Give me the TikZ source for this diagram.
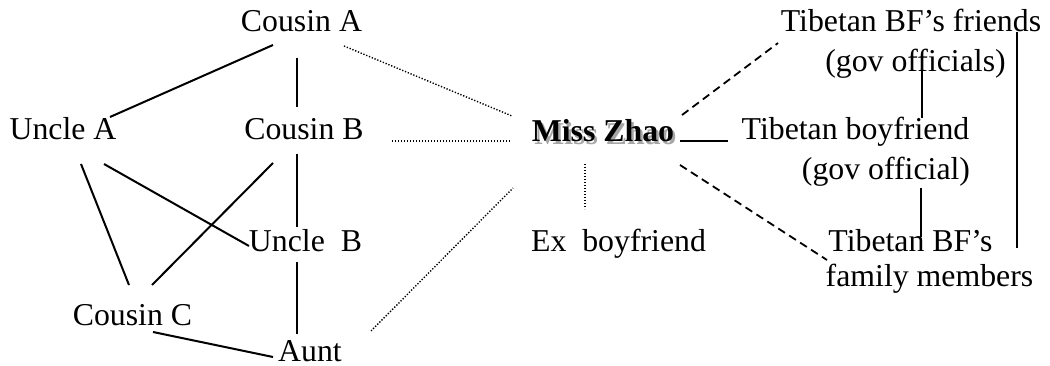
\documentclass[tikz,border=0pt]{standalone}
\usepackage{fontspec}
\setmainfont{Liberation Serif}
\usetikzlibrary{calc}
\begin{document}
\begin{tikzpicture}[x=1pt,y=-1pt,
  lbl/.style={anchor=base,inner sep=0pt,font=\fontsize{31.8}{38}\selectfont},
  tie/.style={line width=2pt},
  weak/.style={line width=1.4pt,dash pattern=on 1.3pt off 1.7pt},
  loose/.style={line width=1.8pt,dash pattern=on 8pt off 5pt}]
\useasboundingbox (0,0) rectangle (1050,366);
\fill[white] (0,0) rectangle (1050,366);

% family
\node[lbl] (ca) at (301.5,32) {Cousin A};
\node[lbl] (ua) at (63,140) {Uncle A};
\node[lbl] (cb) at (304,140) {Cousin B};
\node[lbl] (ub) at (305.5,252) {Uncle\ \ B};
\node[lbl] (cc) at (132.5,325) {Cousin C};
\node[lbl] (au) at (310,361) {Aunt};

% centre, with its soft shadow
\node[lbl,text=black!35] (mzs) at (605.5,144.5) {\bfseries Miss Zhao};
\node[lbl] (mz) at (603,142) {\bfseries Miss Zhao};
\node[lbl] (ex) at (618.5,252) {Ex\ \ boyfriend};

% boyfriend's side
\node[lbl] (tf1) at (911,32) {Tibetan BF’s friends};
\node[lbl] (tf2) at (915.5,72) {(gov officials)};
\node[lbl] (tb1) at (855.5,140) {Tibetan boyfriend};
\node[lbl] (tb2) at (886,180) {(gov official)};
\node[lbl] (tm1) at (910.5,252) {Tibetan BF’s};
\node[lbl] (tm2) at (929.5,287) {family members};

% family ties
\draw[tie] ([shift={(-28.5,13)}]ca.base) -- ([shift={(47,-23)}]ua.base);
\draw[tie] ([shift={(-4.5,26)}]ca.base) -- ([shift={(-7,-33)}]cb.base);
\draw[tie] ([shift={(41,24)}]ua.base) -- ([shift={(-56.5,-6)}]ub.base);
\draw[tie] ([shift={(18,24)}]ua.base) -- ([shift={(-3.5,-40)}]cc.base);
\draw[tie] ([shift={(-31,23)}]cb.base) -- ([shift={(19.5,-40)}]cc.base);
\draw[tie] ([shift={(-7,14)}]cb.base) -- ([shift={(-8.5,-25)}]ub.base);
\draw[tie] ([shift={(-8.5,10)}]ub.base) -- ([shift={(-13,-27)}]au.base);
\draw[tie] ([shift={(20.5,7)}]cc.base) -- ([shift={(-37,-4)}]au.base);

% weak links to Miss Zhao
\draw[weak] ([shift={(42.5,14)}]ca.base) -- ([shift={(-91,-26)}]mz.base);
\draw[weak] ([shift={(88,1)}]cb.base) -- ([shift={(-93,-1)}]mz.base);
\draw[weak] ([shift={(61,-30)}]au.base) -- ([shift={(-90,46)}]mz.base);
\draw[weak] ([shift={(-18,22)}]mz.base) -- ([shift={(-33.5,-43)}]ex.base);

% boyfriend's circle
\draw[loose] ([shift={(79,-27)}]mz.base) -- ([shift={(-133,11)}]tf1.base);
\draw[loose] ([shift={(77,23)}]mz.base) -- ([shift={(-83.5,8)}]tm1.base);
\draw[tie] ([shift={(77,-1)}]mz.base) -- ([shift={(-127.5,1)}]tb1.base);
\draw[tie] ([shift={(6.5,-5)}]tf2.base) -- ([shift={(66.5,-22)}]tb1.base);
\draw[tie] ([shift={(35,8)}]tb2.base) -- ([shift={(10.5,-15)}]tm1.base);
\draw[tie] ([shift={(106,0)}]tf1.base) -- ([shift={(106.5,-4)}]tm1.base);
\end{tikzpicture}
\end{document}
